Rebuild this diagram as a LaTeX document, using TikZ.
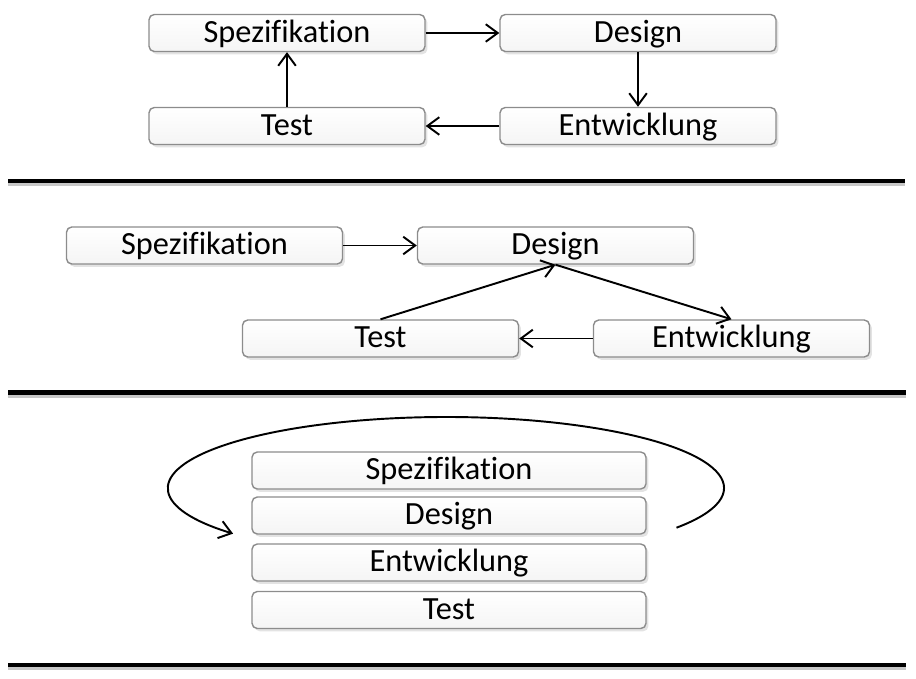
\documentclass[tikz,border=0pt]{standalone}
\usepackage{fontspec}
\setmainfont{Carlito}[Ligatures=NoCommon]
\usepackage{tikz}
\usetikzlibrary{shadows,arrows.meta}

\tikzset{
	phase/.style={draw=black!45, rounded corners=1.5pt, top color=white, bottom color=black!4,
		minimum height=0.37cm, inner sep=0pt, text height=7.9pt, text depth=2.6pt,
		font=\fontsize{9.2pt}{11pt}\selectfont,
		drop shadow={opacity=0.22, shadow xshift=0.7pt, shadow yshift=-0.8pt}},
	flow/.style={line width=0.55pt, -{Straight Barb[length=3.4pt,width=5pt]}},
	rule/.style={line width=1.3pt},
	ruleshadow/.style={line width=1.3pt, black!22}
}

\begin{document}
\begin{tikzpicture}
	\newcommand\bw{2.76}
	\newcommand\bwl{3.94}
	
	\useasboundingbox (0,0) rectangle (9.16,6.78);
	
	% oben: Kreislauf
	\node[phase, minimum width=\bw cm] (spezA) at (2.87,6.45) {Spezifikation};
	\node[phase, minimum width=\bw cm] (designA) at (6.38,6.45) {Design};
	\node[phase, minimum width=\bw cm] (testA) at (2.87,5.52) {Test};
	\node[phase, minimum width=\bw cm] (entwA) at (6.38,5.52) {Entwicklung};
	
	\draw[flow] (spezA) -- (designA);
	\draw[flow] (designA) -- (entwA);
	\draw[flow] (entwA) -- (testA);
	\draw[flow] (testA) -- (spezA);
	
	\coordinate (r1a) at (0.08,4.97);
	\coordinate (r1b) at (9.05,4.97);
	\draw[ruleshadow] ([yshift=-0.9pt]r1a) -- ([yshift=-0.9pt]r1b);
	\draw[rule] (r1a) -- (r1b);
	
	% mitte
	\node[phase, minimum width=\bw cm] (spezB) at (2.045,4.325) {Spezifikation};
	\node[phase, minimum width=\bw cm] (designB) at (5.555,4.325) {Design};
	\node[phase, minimum width=\bw cm] (testB) at (3.805,3.395) {Test};
	\node[phase, minimum width=\bw cm] (entwB) at (7.315,3.395) {Entwicklung};
	
	\draw[flow] (spezB) -- (designB);
	\draw[flow] (testB.north) -- (designB.south);
	\draw[flow] (designB.south) -- (entwB.north);
	\draw[flow] (entwB) -- (testB);
	
	\coordinate (r2a) at (0.08,2.855);
	\coordinate (r2b) at (9.06,2.855);
	\draw[ruleshadow] ([yshift=-0.9pt]r2a) -- ([yshift=-0.9pt]r2b);
	\draw[rule] (r2a) -- (r2b);
	
	% unten: Stapel
	\node[phase, minimum width=\bwl cm] (spezC) at (4.49,2.075) {Spezifikation};
	\node[phase, minimum width=\bwl cm] (designC) at (4.49,1.625) {Design};
	\node[phase, minimum width=\bwl cm] (entwC) at (4.49,1.155) {Entwicklung};
	\node[phase, minimum width=\bwl cm] (testC) at (4.49,0.68) {Test};
	
	\coordinate (loop) at (6.765,1.503);
	\draw[flow] (loop) arc [x radius=2.78, y radius=0.71, start angle=-34, end angle=220];
	
	\coordinate (r3a) at (0.08,0.13);
	\coordinate (r3b) at (9.06,0.13);
	\draw[ruleshadow] ([yshift=-0.9pt]r3a) -- ([yshift=-0.9pt]r3b);
	\draw[rule] (r3a) -- (r3b);
	
\end{tikzpicture}
\end{document}
